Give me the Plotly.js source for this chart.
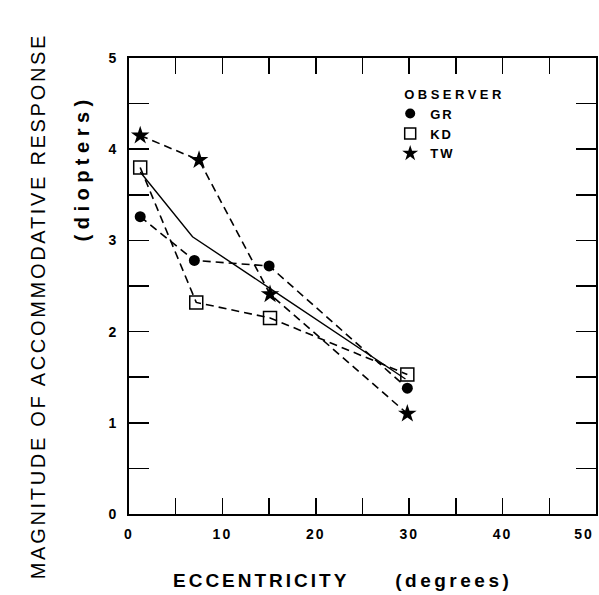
<!DOCTYPE html>
<html>
<head>
<meta charset="utf-8">
<script src="https://cdn.plot.ly/plotly-3.0.1.min.js"></script>
<style>html,body{margin:0;padding:0;background:#fff;}</style>
</head>
<body>
<div id="chart" style="width:599px;height:595px;"></div>
<script>
// Data
var grX = [1.2, 7.0, 15.0, 29.8];
var grY = [3.26, 2.78, 2.72, 1.38];
var kdX = [1.2, 7.2, 15.1, 29.8];
var kdY = [3.80, 2.32, 2.15, 1.53];
var twX = [1.2, 7.5, 15.1, 29.8];
var twY = [4.15, 3.88, 2.41, 1.10];
var meanX = [1.2, 6.8, 15.0, 29.6];
var meanY = [3.75, 3.04, 2.48, 1.48];
var xTickVals = [0, 10, 20, 30, 40, 50];
var yTickVals = [0, 1, 2, 3, 4, 5];
var observers = ['GR', 'KD', 'TW'];

var FONT = 'Liberation Sans, Arial, Helvetica, sans-serif';
var dashStyle = {color: '#000', width: 1.6, dash: '8px,5px'};

var traces = [
  {x: meanX, y: meanY, mode: 'lines', line: {color: '#000', width: 1.4}, showlegend: false, hoverinfo: 'skip'},
  {x: grX, y: grY, mode: 'lines+markers', line: dashStyle,
   marker: {symbol: 'circle', size: 11, color: '#000'}, showlegend: false},
  {x: kdX, y: kdY, mode: 'lines+markers', line: dashStyle,
   marker: {symbol: 'square-open', size: 13, color: '#000', line: {width: 1.5, color: '#000'}}, showlegend: false},
  {x: twX, y: twY, mode: 'lines+markers', line: dashStyle,
   marker: {symbol: 'star', size: 14, color: '#000'}, showlegend: false},
  // legend entries (markers only)
  {x: [null], y: [null], mode: 'markers', name: observers[0],
   marker: {symbol: 'circle', size: 10, color: '#000'}},
  {x: [null], y: [null], mode: 'markers', name: observers[1],
   marker: {symbol: 'square-open', size: 11, color: '#000', line: {width: 1.5, color: '#000'}}},
  {x: [null], y: [null], mode: 'markers', name: observers[2],
   marker: {symbol: 'star', size: 12, color: '#000'}}
];

var axisCommon = {
  showgrid: false, zeroline: false, showline: true, linecolor: '#000', linewidth: 2,
  mirror: 'ticks', ticks: 'inside', tickcolor: '#000', tickwidth: 1.5,
  tickfont: {family: FONT, size: 14, color: '#000', weight: 'bold'},
  ticklabeloverflow: 'allow',
  fixedrange: true
};

var layout = {
  width: 599, height: 595,
  margin: {l: 129, r: 3, t: 58, b: 81},
  paper_bgcolor: '#fff', plot_bgcolor: '#fff',
  font: {family: FONT, color: '#000'},
  xaxis: Object.assign({}, axisCommon, {
    range: [0, 50], tickmode: 'array', tickvals: xTickVals, ticktext: xTickVals.map(String),
    ticklen: 16, ticklabelstandoff: 6,
    minor: {dtick: 5, tick0: 0, ticks: 'inside', ticklen: 16, tickwidth: 1.5, tickcolor: '#000', showgrid: false}
  }),
  yaxis: Object.assign({}, axisCommon, {
    range: [0, 5], tickmode: 'array', tickvals: yTickVals, ticktext: yTickVals.map(String),
    ticklen: 20, ticklabelstandoff: 6,
    minor: {dtick: 0.5, tick0: 0, ticks: 'inside', ticklen: 20, tickwidth: 1.5, tickcolor: '#000', showgrid: false}
  }),
  showlegend: true,
  legend: {
    x: 0.585, y: 0.948, xanchor: 'left', yanchor: 'top',
    bgcolor: 'rgba(0,0,0,0)', borderwidth: 0,
    title: {text: 'OBSERVER', font: {family: FONT, size: 13, weight: 'bold', color: '#000'}},
    font: {family: FONT, size: 13, weight: 'bold', color: '#000'},
    tracegroupgap: 0, indentation: -12, itemwidth: 30
  },
  annotations: [
    {text: 'MAGNITUDE OF ACCOMMODATIVE RESPONSE', xref: 'paper', yref: 'paper',
     x: (38 - 129) / 467, y: (514 - 306) / 456, xanchor: 'center', yanchor: 'middle',
     textangle: -90, showarrow: false, font: {family: FONT, size: 20, color: '#000'}},
    {text: '(diopters)', xref: 'paper', yref: 'paper',
     x: (82 - 129) / 467, y: (514 - 168) / 456, xanchor: 'center', yanchor: 'middle',
     textangle: -90, showarrow: false, font: {family: FONT, size: 20, weight: 'bold', color: '#000'}},
    {text: 'ECCENTRICITY', xref: 'paper', yref: 'paper',
     x: (261 - 129) / 467, y: (514 - 580) / 456, xanchor: 'center', yanchor: 'middle',
     showarrow: false, font: {family: FONT, size: 19, weight: 'bold', color: '#000'}},
    {text: '(degrees)', xref: 'paper', yref: 'paper',
     x: (454 - 129) / 467, y: (514 - 580) / 456, xanchor: 'center', yanchor: 'middle',
     showarrow: false, font: {family: FONT, size: 19, weight: 'bold', color: '#000'}}
  ]
};

Plotly.newPlot('chart', traces, layout, {displayModeBar: false, staticPlot: true}).then(function () {
  var spacing = {'MAGNITUDE OF ACCOMMODATIVE RESPONSE': '2.7px', '(diopters)': '5.5px',
                 'ECCENTRICITY': '3px', '(degrees)': '3.5px'};
  document.querySelectorAll('.annotation-text').forEach(function (t) {
    var s = spacing[t.textContent];
    if (s) t.style.letterSpacing = s;
  });
  document.querySelectorAll('.xtick text, .ytick text').forEach(function (t) {
    t.style.letterSpacing = '2px';
    if (t.textContent === '50') {
      var tr = t.getAttribute('transform') || '';
      t.setAttribute('transform', tr + ' translate(-12,0)');
    }
  });
  document.querySelectorAll('.legend [clip-path]').forEach(function (el) {
    el.removeAttribute('clip-path');
  });
  document.querySelectorAll('.legendtitletext').forEach(function (t) {
    t.style.letterSpacing = '3.5px';
  });
  document.querySelectorAll('.legendtext').forEach(function (t) {
    t.style.letterSpacing = '2px';
  });
});
</script>
</body>
</html>
